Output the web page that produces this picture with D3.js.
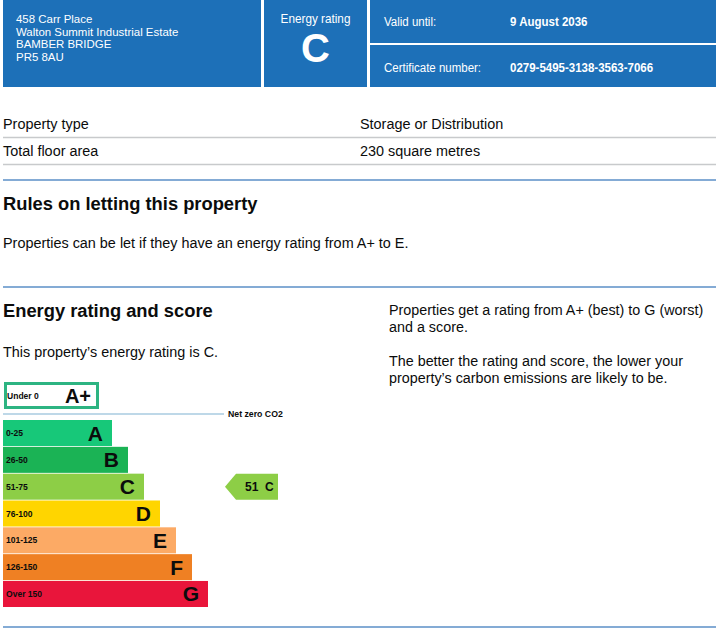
<!DOCTYPE html>
<html>
<head>
<meta charset="utf-8">
<title>Energy rating</title>
<style>
  body { margin: 0; background: #fff; }
  text { font-family: "Liberation Sans", Arial, sans-serif; }
</style>
</head>
<body>
<script src="https://cdn.jsdelivr.net/npm/d3@7"></script>
<script>
var addressLines = ["458 Carr Place", "Walton Summit Industrial Estate", "BAMBER BRIDGE", "PR5 8AU"];
var validUntil = "9 August 2036";
var certNumber = "0279-5495-3138-3563-7066";
var propRows = ["Property type", "Total floor area"];
var propValues = ["Storage or Distribution", "230 square metres"];
var bands = ["A", "B", "C", "D", "E", "F", "G"];
var bandRanges = ["0-25", "26-50", "51-75", "76-100", "101-125", "126-150", "Over 150"];
var topBand = "A+", topRange = "Under 0";
var score = 51, rating = "C";

var W = 719, H = 636;
var blue = "#1d70b8";

var svg = d3.select("body").append("svg").attr("width", W).attr("height", H);

// text squeezed a little horizontally like the source
function txt(g, x, y, s, size, weight, fill, anchor, sx) {
  return g.append("text")
    .attr("transform", "translate(" + x + "," + y + ") scale(" + (sx || 0.93) + ",1)")
    .attr("font-size", size)
    .attr("font-weight", weight || "normal")
    .attr("fill", fill || "#0b0c0c")
    .attr("text-anchor", anchor || "start")
    .text(s);
}

// header blocks
var hdr = svg.append("g");
hdr.append("rect").attr("x", 3).attr("y", 0).attr("width", 258).attr("height", 87).attr("fill", blue);
hdr.append("rect").attr("x", 264).attr("y", 0).attr("width", 103).attr("height", 87).attr("fill", blue);
hdr.append("rect").attr("x", 370).attr("y", 0).attr("width", 346).attr("height", 43).attr("fill", blue);
hdr.append("rect").attr("x", 370).attr("y", 45).attr("width", 346).attr("height", 42).attr("fill", blue);

addressLines.forEach(function(l, i) {
  txt(hdr, 16, 23 + i * 12.6, l, 11, "normal", "#fff", "start", 1.04);
});
txt(hdr, 315.5, 23, "Energy rating", 12.5, "normal", "#fff", "middle", 0.94);
txt(hdr, 315.5, 62, rating, 40, "bold", "#fff", "middle", 1);
txt(hdr, 384, 26, "Valid until:", 12.5, "normal", "#fff", "start", 0.92);
txt(hdr, 510, 26, validUntil, 12.5, "bold", "#fff", "start", 0.92);
txt(hdr, 384, 72, "Certificate number:", 12.5, "normal", "#fff", "start", 0.92);
txt(hdr, 510, 72, certNumber, 12.5, "bold", "#fff", "start", 0.92);

// property table
var tbl = svg.append("g");
propRows.forEach(function(r, i) {
  var y = 129 + i * 27;
  txt(tbl, 3, y, r, 15.5);
  txt(tbl, 360, y, propValues[i], 15.5);
  tbl.append("line").attr("x1", 3).attr("x2", 716).attr("y1", y + 8.5).attr("y2", y + 8.5)
    .attr("stroke", "#c8cacc").attr("stroke-width", 1.5);
});

// section separators
[180, 287, 627].forEach(function(y) {
  svg.append("line").attr("x1", 3).attr("x2", 716).attr("y1", y).attr("y2", y)
    .attr("stroke", "#5b8fc7").attr("stroke-width", 1.5);
});

txt(svg, 3, 210, "Rules on letting this property", 19, "bold", null, "start", 0.965);
txt(svg, 3, 248, "Properties can be let if they have an energy rating from A+ to E.", 15.5);
txt(svg, 3, 317, "Energy rating and score", 19, "bold", null, "start", 0.965);
txt(svg, 3, 357, "This property\u2019s energy rating is C.", 15.5);
txt(svg, 389, 315, "Properties get a rating from A+ (best) to G (worst)", 15.5, null, null, "start", 0.925);
txt(svg, 389, 332, "and a score.", 15.5, null, null, "start", 0.925);
txt(svg, 389, 366, "The better the rating and score, the lower your", 15.5, null, null, "start", 0.925);
txt(svg, 389, 383, "property\u2019s carbon emissions are likely to be.", 15.5, null, null, "start", 0.925);

// rating graph
var colour = d3.scaleOrdinal().domain(bands)
  .range(["#17c879", "#1bb355", "#8dce46", "#ffd500", "#fcaa65", "#ef8023", "#e9153b"]);
var y = d3.scaleBand().domain(bands).range([420, 607]).paddingInner(0.03);
var xEnd = d3.scalePoint().domain(bands).range([112, 208]);
var x0 = 3;

var chart = svg.append("g");

// A+ box
chart.append("rect").attr("x", 5.5).attr("y", 383.5).attr("width", 92).attr("height", 24)
  .attr("fill", "#fff").attr("stroke", "#2db482").attr("stroke-width", 3);
txt(chart, 7, 399, topRange, 9, "bold", null, "start", 0.95);
txt(chart, 91, 403, topBand, 20, "bold", "#0b0c0c", "end", 1);

// net zero line
chart.append("line").attr("x1", 3).attr("x2", 224).attr("y1", 414).attr("y2", 414)
  .attr("stroke", "#a9cbe0").attr("stroke-width", 1.5);
txt(chart, 228, 417, "Net zero CO2", 9, "bold", null, "start", 0.97);

var bar = chart.selectAll("g.band").data(bands).enter().append("g").attr("class", "band");
bar.append("rect")
  .attr("x", x0)
  .attr("y", function(d) { return y(d); })
  .attr("width", function(d) { return xEnd(d) - x0; })
  .attr("height", y.bandwidth())
  .attr("fill", function(d) { return colour(d); });
bar.each(function(d, i) {
  var g = d3.select(this);
  var cy = y(d) + y.bandwidth() / 2;
  txt(g, 6, cy + 3, bandRanges[i], 9, "bold", null, "start", 0.95);
  txt(g, xEnd(d) - 9, cy + 7.5, d, 21, "bold", "#0b0c0c", "end", 1);
});

// current rating pointer
var py = y(rating), ph = y.bandwidth();
chart.append("path")
  .attr("d", d3.line()([[225, py + ph / 2], [236, py], [278, py], [278, py + ph], [236, py + ph]]) + "Z")
  .attr("fill", colour(rating));
txt(chart, 245, py + ph / 2 + 4.5, score + "\u00a0\u00a0" + rating, 12, "bold", null, "start", 1);
</script>
</body>
</html>
